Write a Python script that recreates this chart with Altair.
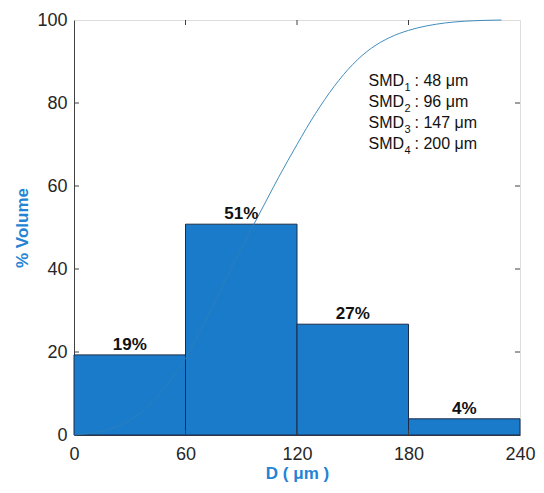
import altair as alt
import pandas as pd

# Histogram bins (D in micrometres) and % volume
bin_start = [0, 60, 120, 180]
bin_end = [60, 120, 180, 240]
volume = [19.3, 50.8, 26.7, 3.9]
labels = ["19%", "51%", "27%", "4%"]

# Cumulative volume curve
cum_d = [0, 10, 20, 30, 40, 50, 60, 70, 80, 90, 100, 110, 120, 130, 140, 150,
         160, 170, 180, 190, 200, 210, 220, 230]
cum_v = [0, 0.5, 1.5, 3.5, 7, 12, 18.5, 27, 36, 45, 53.5, 62, 70, 77.5, 84,
         89.3, 93.2, 95.8, 97.5, 98.6, 99.3, 99.7, 99.9, 100]

# SMD annotation
smd_sub = ["1", "2", "3", "4"]
smd_val = [": 48 \u03bcm", ": 96 \u03bcm", ": 147 \u03bcm", ": 200 \u03bcm"]
smd_x = [158.5, 158.5, 158.5, 158.5]
smd_y = [85.2, 80.2, 75.1, 70.1]

x_ticks = [0, 60, 120, 180, 240]
y_ticks = [0, 20, 40, 60, 80, 100]

bars = pd.DataFrame({"x": bin_start, "x2": bin_end, "v": volume, "lab": labels})
curve = pd.DataFrame({"d": cum_d, "v": cum_v})
smd = pd.DataFrame({"x": smd_x, "y": smd_y, "sub": smd_sub, "val": smd_val})
xt = pd.DataFrame({"t": x_ticks[1:-1]})
yt = pd.DataFrame({"t": y_ticks[1:-1]})

BAR = "#1b7bcb"
TITLE = "#2383d4"
AX = "#404040"
FONT = "Liberation Sans"
W, H = 446, 415

xs = alt.Scale(domain=[0, 240], nice=False, zero=False)
ys = alt.Scale(domain=[0, 100], nice=False)

xaxis = alt.Axis(values=x_ticks, title="D ( \u03bcm )", tickSize=0, labelPadding=10,
                 labelFontSize=18, labelColor="#262626", labelFont=FONT, titleFont=FONT,
                 titleFontSize=17, titleFontWeight="bold", titleColor=TITLE, titlePadding=2,
                 domainColor=AX, grid=False, labelFlush=False)
yaxis = alt.Axis(values=y_ticks, title="% Volume", tickSize=0, labelPadding=7,
                 labelFontSize=18, labelColor="#262626", labelFont=FONT, titleFont=FONT,
                 titleFontSize=17, titleFontWeight="bold", titleColor=TITLE, titlePadding=5,
                 domainColor=AX, grid=False)

bar_layer = alt.Chart(bars).mark_rect(color=BAR, stroke="#1c2b48", strokeWidth=1).encode(
    x=alt.X("x:Q", scale=xs, axis=xaxis),
    x2="x2:Q",
    y=alt.Y("v:Q", scale=ys, axis=yaxis),
    y2=alt.datum(0),
)

lab_layer = alt.Chart(bars).mark_text(
    font=FONT, fontSize=17, fontWeight="bold", color="#111111", baseline="bottom", dy=-1
).encode(
    x=alt.X("mid:Q", scale=xs),
    y=alt.Y("v:Q", scale=ys),
    text="lab:N",
).transform_calculate(mid="(datum.x + datum.x2) / 2")

curve_layer = alt.Chart(curve).mark_line(
    color="#2a7fb5", strokeWidth=0.9, interpolate="monotone"
).encode(
    x=alt.X("d:Q", scale=xs),
    y=alt.Y("v:Q", scale=ys),
)

smd_main = alt.Chart(smd).mark_text(
    font=FONT, fontSize=16, color="#111111", align="left", baseline="middle", text="SMD"
).encode(x=alt.X("x:Q", scale=xs), y=alt.Y("y:Q", scale=ys))

smd_subs = alt.Chart(smd).mark_text(
    font=FONT, fontSize=11, color="#111111", align="left", baseline="middle", dx=36, dy=7
).encode(x=alt.X("x:Q", scale=xs), y=alt.Y("y:Q", scale=ys), text="sub:N")

smd_vals = alt.Chart(smd).mark_text(
    font=FONT, fontSize=16, color="#111111", align="left", baseline="middle", dx=46
).encode(x=alt.X("x:Q", scale=xs), y=alt.Y("y:Q", scale=ys), text="val:N")

# inward ticks on all four sides
tick_bottom = alt.Chart(xt).mark_rule(color=AX, strokeWidth=1).encode(
    x=alt.X("t:Q", scale=xs), y=alt.value(H), y2=alt.value(H - 5))
tick_top = alt.Chart(xt).mark_rule(color=AX, strokeWidth=1).encode(
    x=alt.X("t:Q", scale=xs), y=alt.value(0), y2=alt.value(5))
tick_left = alt.Chart(yt).mark_rule(color=AX, strokeWidth=1).encode(
    y=alt.Y("t:Q", scale=ys), x=alt.value(0), x2=alt.value(5))
tick_right = alt.Chart(yt).mark_rule(color=AX, strokeWidth=1).encode(
    y=alt.Y("t:Q", scale=ys), x=alt.value(W), x2=alt.value(W - 5))

chart = alt.layer(
    bar_layer, curve_layer, lab_layer, smd_main, smd_subs, smd_vals,
    tick_bottom, tick_top, tick_left, tick_right
).properties(
    width=W, height=H,
    autosize=alt.AutoSizeParams(type="none"),
    padding={"left": 66, "top": 12, "right": 16, "bottom": 50},
).configure_view(stroke=AX, strokeWidth=1).configure(background="white")

chart.save("out.html", embed_options={"renderer": "svg", "actions": False})
